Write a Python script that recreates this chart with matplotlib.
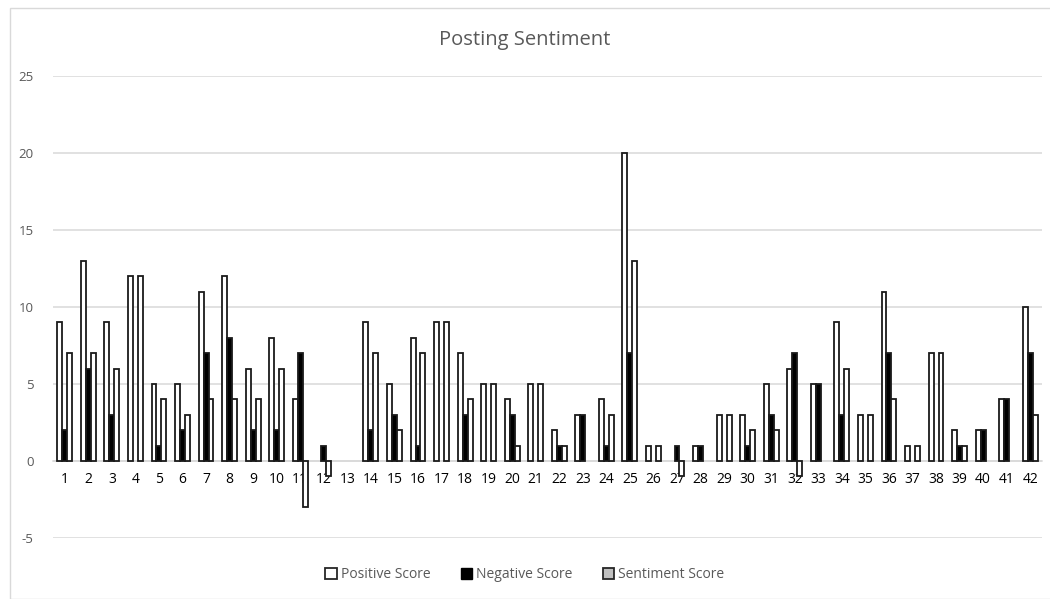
import matplotlib
matplotlib.use("Agg")
import matplotlib.pyplot as plt
import matplotlib.patches as mpatches
import numpy as np

categories = [str(i) for i in range(1, 43)]
positive = [9, 13, 9, 12, 5, 5, 11, 12, 6, 8, 4, 0, 0, 9, 5, 8, 9, 7, 5, 4, 5,
            2, 3, 4, 20, 1, 0, 1, 3, 3, 5, 6, 5, 9, 3, 11, 1, 7, 2, 2, 4, 10]
negative = [2, 6, 3, 0, 1, 2, 7, 8, 2, 2, 7, 1, 0, 2, 3, 1, 0, 3, 0, 3, 0,
            1, 3, 1, 7, 0, 1, 1, 0, 1, 3, 7, 5, 3, 0, 7, 0, 0, 1, 2, 4, 7]
sentiment = [7, 7, 6, 12, 4, 3, 4, 4, 4, 6, -3, -1, 0, 7, 2, 7, 9, 4, 5, 1, 5,
             1, 0, 3, 13, 1, -1, 0, 3, 2, 2, -1, 0, 6, 3, 4, 1, 7, 1, 0, 0, 3]
series_names = ["Positive Score", "Negative Score", "Sentiment Score"]
yticks = [-5, 0, 5, 10, 15, 20, 25]

plt.rcParams['font.family'] = ['Open Sans', 'DejaVu Sans']
txt = '#595959'
grid = '#d9d9d9'

fig = plt.figure(figsize=(10.5, 5.99), dpi=100)
ax = fig.add_axes([53/1050, 61/599, (1042-53)/1050, (538-76)/599])

x = np.arange(len(categories))
w = 0.21
edge = '#1a1a1a'

def lw(vals):
    return [1.3 if v != 0 else 0 for v in vals]

ax.bar(x - w, positive, w, color='white', edgecolor=edge, linewidth=lw(positive), zorder=3)
ax.bar(x, negative, w, color='black', edgecolor=edge, linewidth=lw(negative), zorder=3)
ax.bar(x + w, sentiment, w, color='white', edgecolor=edge, linewidth=lw(sentiment), zorder=3)

ax.set_ylim(-5, 25)
ax.set_xlim(-0.5, len(categories) - 0.5)
ax.set_yticks(yticks)
ax.set_yticklabels([str(v) for v in yticks], color=txt, fontsize=9.5)
ax.yaxis.grid(True, color=grid, linewidth=1.1, zorder=0)
ax.set_axisbelow(True)
ax.tick_params(axis='y', length=0, pad=14)

ax.set_xticks(x)
ax.set_xticklabels(categories, color=txt, fontsize=10.5)
ax.tick_params(axis='x', length=0, pad=8)

for s in ['top', 'right', 'left']:
    ax.spines[s].set_visible(False)
ax.spines['bottom'].set_position(('data', 0))
ax.spines['bottom'].set_color(grid)
ax.spines['bottom'].set_linewidth(1.1)
ax.spines['bottom'].set_zorder(1)

fig.text(0.5, 1 - 40/599, "Posting Sentiment", ha='center', va='center',
         fontsize=14.5, color=txt)

handles = [
    mpatches.Patch(facecolor='white', edgecolor='#262626', linewidth=1.3),
    mpatches.Patch(facecolor='black', edgecolor='black', linewidth=1.0),
    mpatches.Patch(facecolor='#bfbfbf', edgecolor='#262626', linewidth=1.3),
]
leg = fig.legend(handles, series_names, loc='center', bbox_to_anchor=(0.5, 1 - 575/599),
                 ncol=3, frameon=False, fontsize=10, handlelength=0.8, handleheight=0.8,
                 handletextpad=0.3, columnspacing=2.2)
for t in leg.get_texts():
    t.set_color(txt)

border = mpatches.Rectangle((10/1050, 0), 1.0, 1 - 8/599, transform=fig.transFigure,
                            fill=False, edgecolor='#d9d9d9', linewidth=1.0)
fig.patches.append(border)

fig.savefig("out.png", dpi=100)
